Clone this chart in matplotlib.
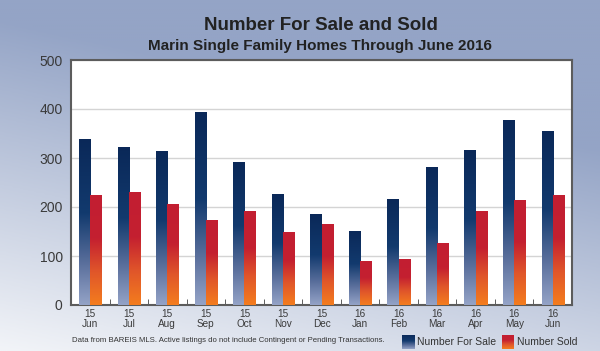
import numpy as np
import matplotlib
matplotlib.use("Agg")
import matplotlib.pyplot as plt
from matplotlib.colors import LinearSegmentedColormap

# dati
anni = ["15", "15", "15", "15", "15", "15", "15", "16", "16", "16", "16", "16", "16"]
mesi = ["Jun", "Jul", "Aug", "Sep", "Oct", "Nov", "Dec", "Jan", "Feb", "Mar", "Apr", "May", "Jun"]
in_vendita = [339, 322, 315, 393, 292, 227, 185, 152, 216, 282, 317, 378, 356]
venduti = [225, 230, 207, 174, 192, 150, 165, 90, 93, 126, 192, 214, 225]

titolo = "Number For Sale and Sold"
sottotitolo = "Marin Single Family Homes Through June 2016"
nota = "Data from BAREIS MLS. Active listings do not include Contingent or Pending Transactions."

plt.rcParams['font.family'] = ['Liberation Sans', 'DejaVu Sans']

# colormap dal basso (0) all'alto (1)
cmap_vendita = LinearSegmentedColormap.from_list(
    "vendita", [(0, "#94a3c7"), (0.25, "#5a6f9c"), (0.55, "#123a6e"), (1, "#0a2858")])
cmap_venduti = LinearSegmentedColormap.from_list(
    "venduti", [(0, "#f47d1e"), (0.3, "#e0562a"), (0.6, "#c42030"), (1, "#c21e32")])

fig = plt.figure(figsize=(6, 3.51), dpi=100)

# sfondo sfumato
bg = fig.add_axes([0, 0, 1, 1], zorder=-1)
yy, xx = np.mgrid[0:1:200j, 0:1:300j]
val = np.clip(0.95 * yy + 0.35 * (1 - xx) - 0.4, 0, 1)
cmap_bg = LinearSegmentedColormap.from_list("bg", ["#94a4c6", "#f2f4f8"])
bg.imshow(val, cmap=cmap_bg, aspect="auto", extent=[0, 1, 0, 1], origin="upper")
bg.set_xlim(0, 1)
bg.set_ylim(0, 1)
bg.axis("off")

ax = fig.add_axes([71 / 600, 1 - 305 / 351, 501 / 600, 245 / 351])
ax.set_facecolor("white")

x = np.arange(len(mesi))
w = 0.29
grad = np.linspace(0, 1, 256).reshape(-1, 1)

barre_v = ax.bar(x - w / 2, in_vendita, w, facecolor="none", edgecolor="none", zorder=3)
barre_s = ax.bar(x + w / 2, venduti, w, facecolor="none", edgecolor="none", zorder=3)

# sfumatura dentro ogni barra
for barre, cm in [(barre_v, cmap_vendita), (barre_s, cmap_venduti)]:
    for b in barre:
        x0, y0 = b.get_x(), b.get_y()
        im = ax.imshow(grad, cmap=cm, origin="lower", aspect="auto", interpolation="bilinear",
                       extent=[x0, x0 + b.get_width(), y0, y0 + b.get_height()], zorder=3)
        im.set_clip_path(b)

ax.set_xlim(-0.5, len(mesi) - 0.5)
ax.set_ylim(0, 500)
ax.set_yticks([0, 100, 200, 300, 400, 500])
ax.yaxis.grid(True, color="#d4d4d4", linewidth=1)
ax.set_axisbelow(True)

ax.set_xticks(x)
ax.set_xticklabels([a + "\n" + m for a, m in zip(anni, mesi)], fontsize=7.2, color="#3a3a3a",
                   linespacing=1.0)
ax.set_xticks(x[:-1] + 0.5, minor=True)
ax.tick_params(axis="x", which="major", length=0, pad=3)
ax.tick_params(axis="x", which="minor", direction="in", length=4, color="#444444")
ax.tick_params(axis="y", length=0, labelsize=10, labelcolor="#3a3a3a", pad=6)

for s in ax.spines.values():
    s.set_color("#5c5c5c")
    s.set_linewidth(1.5)

fig.text(0.535, 1 - 25 / 351, titolo, ha="center", va="center", fontsize=13.5,
         fontweight="bold", color="#222222")
fig.text(0.533, 1 - 46 / 351, sottotitolo, ha="center", va="center", fontsize=11,
         fontweight="bold", color="#222222")

fig.text(72 / 600, 1 - 341 / 351, nota, ha="left", va="center", fontsize=5.6, color="#333333")

# legenda manuale con sfumature
for x0, cm, testo in [(402, cmap_vendita, "Number For Sale"), (502, cmap_venduti, "Number Sold")]:
    lax = fig.add_axes([x0 / 600, 1 - 349 / 351, 12 / 600, 14 / 351])
    lax.imshow(grad, cmap=cm, origin="lower", aspect="auto", extent=[0, 1, 0, 1])
    lax.axis("off")
    fig.text((x0 + 15) / 600, 1 - 342 / 351, testo, ha="left", va="center", fontsize=7.5,
             color="#333333")

fig.savefig("out.png", dpi=100)
